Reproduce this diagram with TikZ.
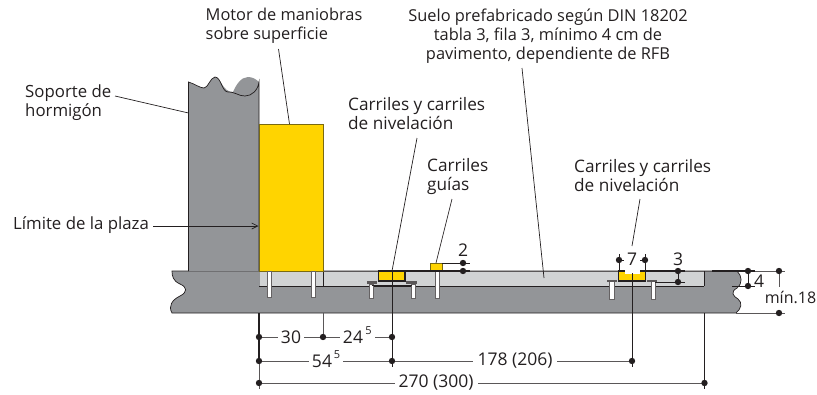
\documentclass[tikz,border=0pt]{standalone}
\usepackage{fontspec}
\usetikzlibrary{arrows.meta}
\setmainfont{Open Sans}
\definecolor{conc}{HTML}{939598}
\definecolor{lite}{HTML}{D1D3D4}
\definecolor{yel}{HTML}{FFD400}
\definecolor{ink}{HTML}{231F20}
\definecolor{olive}{HTML}{7A6A10}
\tikzset{
  lbl/.style={font=\fontsize{16.4}{19}\selectfont, text=ink, inner sep=0pt, align=left, anchor=west},
  lblw/.style={lbl, font=\fontsize{17.2}{19}\selectfont},
  lblm/.style={lbl, font=\fontsize{16.8}{19}\selectfont},
  dimt/.style={font=\fontsize{17.5}{18}\selectfont, text=ink, inner sep=0pt},
  sup5/.style={font=\fontsize{11}{12}\selectfont, text=ink, inner sep=0pt},
  ln/.style={draw=ink, line width=0.7pt},
  dimln/.style={draw=ink!75, line width=0.8pt},
  heavy/.style={draw=ink, line width=1.4pt},
  dot/.style={circle, fill=ink, inner sep=0pt, minimum size=6.4pt},
  bolt/.style={draw=ink!70, fill=white, line width=0.7pt},
  railb/.style={draw=ink, fill=yel, line width=1.5pt},
}
\begin{document}
\begin{tikzpicture}[x=1pt,y=-1pt]
\useasboundingbox (0,0) rectangle (817,394);
% slab
\path[fill=conc,draw=ink,line width=0.7pt] (172,271) -- (737,271)
  .. controls (742,276) and (743,283) .. (737,288)
  .. controls (730,292) and (733,296) .. (738,299)
  .. controls (743,303) and (741,309) .. (736,313)
  -- (172,313)
  .. controls (168,306) and (172,300) .. (180,296)
  .. controls (188,292) and (187,287) .. (180,284)
  .. controls (173,281) and (172,276) .. (172,271) -- cycle;
% screed
\path[fill=lite] (259,271) rectangle (704,286);
\draw[dimln] (259,271) -- (737,271);
\draw[ln] (259,286) -- (704,286);
\draw[draw=conc,line width=0.8pt] (259,271) -- (259,286);
\draw[ln] (323,271) -- (323,286);
\draw[ln] (704.5,271) -- (704.5,286);
% column
\path[fill=conc] (188.5,271) -- (188.5,82)
  .. controls (195,84) and (200,88) .. (204,88)
  .. controls (208,88) and (210,78) .. (215,77)
  .. controls (221,77) and (222,92) .. (233,92)
  .. controls (236,85) and (241,77) .. (248,77)
  .. controls (252,77) and (256,79) .. (259,82)
  -- (259,271) -- cycle;
\draw[ln] (188.5,271) -- (188.5,82)
  .. controls (195,84) and (200,88) .. (204,88)
  .. controls (208,88) and (210,78) .. (215,77)
  .. controls (221,77) and (222,92) .. (228,92)
  .. controls (236,92) and (238,96) .. (245,96)
  .. controls (252,96) and (258,90) .. (259,82)
  -- (259,271);
% motor
\path[fill=yel,draw=olive,line width=0.9pt] (259,124) rectangle (323,271);
% bolts under motor
\path[bolt] (267,271) rectangle (271,297);
\path[bolt] (311,271) rectangle (315,297);
% left rail
\path[bolt] (369,284) rectangle (373,298);
\path[bolt] (411,284) rectangle (415,298);
\draw[ln,line width=1.3pt] (372,285.5) -- (412,285.5);
\path[fill=ink!75] (367,281) rectangle (377,284);
\path[fill=ink!75] (406,281) rectangle (417,284);
\draw[railb] (378.5,271) -- (378.5,281) -- (405,281) -- (405,271) -- cycle;
% guide rail
\path[bolt] (435,271) rectangle (439,298);
\path[fill=yel,draw=olive,line width=0.8pt] (430.5,263) rectangle (442,271);
\draw[ln] (442,263) -- (470,263);
\draw[heavy] (405,271) -- (470,271);
% right rail
\path[bolt] (609,281) rectangle (614,299);
\path[bolt] (651,281) rectangle (655,299);
\path[fill=ink!75] (607,280) rectangle (617,282);
\path[fill=ink!75] (647,280) rectangle (657,282);
\draw[railb] (618.5,271) -- (618.5,281) -- (645.5,281) -- (645.5,271) -- cycle;
\draw[ln] (655,282) -- (685,282);
\draw[heavy] (645,271) -- (685,271);
\draw[heavy] (712,271) -- (755,271);
% right ext lines
\draw[dimln] (755,271) -- (785,271);
\draw[dimln] (736,313) -- (785,313);
\draw[ln] (732,286) -- (755,286);
% white gap above right rail
\path[fill=white] (625,262) rectangle (640,273.5);
% nodes
\node[lblm] (soporte) at (25,102.5) {Soporte de\\hormigón};
\node[lblm] (limite) at (13,225.5) {Límite de la plaza};
\node[lbl] (motor) at (205.5,25.5) {Motor de maniobras\\sobre superficie};
\node[lbl,align=center,anchor=center] (suelo) at (548,36) {Suelo prefabricado según DIN 18202\\tabla 3, fila 3, mínimo 4 cm de\\pavimento, dependiente de RFB};
\node[lblw] (carrA) at (348,113.5) {Carriles y carriles\\de nivelación};
\node[lblw] (guias) at (427,176.5) {Carriles\\guías};
\node[lblw] (carrB) at (574,176) {Carriles y carriles\\de nivelación};
% leader coordinates
\coordinate (sopS) at (115,96); \coordinate (sopE) at (188.5,113);
\coordinate (limS) at (153,226); \coordinate (limE) at (258.5,226);
\coordinate (motS) at (278.5,49); \coordinate (motE) at (289.5,124);
\coordinate (sueS) at (522,68); \coordinate (sueE) at (544,278);
\coordinate (cAS) at (417,138); \coordinate (cAE) at (392,271);
\coordinate (gS) at (452,199); \coordinate (gE) at (436,263);
\coordinate (cBS) at (640,199); \coordinate (cBE) at (632,246);
\draw[ln] (sopS) -- (sopE);
\draw[ln,-{Straight Barb[length=6pt,width=6pt]}] (limS) -- (limE);
\draw[ln] (motS) -- (motE);
\draw[ln] (sueS) -- (sueE);
\draw[ln] (cAS) -- (cAE);
\draw[ln] (gS) -- (gE);
\draw[ln] (cBS) -- (cBE);
% vertical dimension rules
\coordinate (a0) at (259,313); \coordinate (a1) at (259,337); \coordinate (a2) at (259,361); \coordinate (a3) at (259,383); \coordinate (a4) at (259,389);
\coordinate (b0) at (323,313); \coordinate (b1) at (323,337);
\coordinate (c0) at (392,271); \coordinate (c1) at (392,337); \coordinate (c2) at (392,361); \coordinate (c3) at (392,367);
\coordinate (dt) at (632,273); \coordinate (d1) at (632,361); \coordinate (d3) at (632,367);
\coordinate (e0) at (704.5,313); \coordinate (e1) at (704.5,383); \coordinate (e3) at (704.5,389);
\draw[heavy] (a0) -- (a2);
\draw[dimln] (a2) -- (a4);
\draw[dimln] (b0) -- (b1);
\draw[ln] (c0) -- (c3);
\draw[ln] (dt) -- (d3);
\draw[ln] (e0) -- (e3);
% horizontal dimension rules
\draw[dimln] (a1) -- (278,337) (304,337) -- (340,337) (375,337) -- (c1);
\draw[dimln] (a2) -- (309,361) (343,361) -- (473,361) (557,361) -- (d1);
\draw[dimln] (a3) -- (395,383) (478,383) -- (e1);
\foreach \p in {a1,a2,a3,b1,c1,c2,d1,e1} \node[dot] at (\p) {};
\node[dimt] (t30) at (291,337) {30};
\node[dimt] (t24) at (353,337) {24};
\node[sup5] (s24) at (368.5,330.5) {5};
\node[dimt] (t54) at (322,361) {54};
\node[sup5] (s54) at (337,355) {5};
\node[dimt] (t178) at (515,361) {178 (206)};
\node[dimt] (t270) at (436,383) {270 (300)};
% small dims
\node[dot] (d2a) at (463,263) {}; \node[dot] (d2b) at (463,271) {};
\node[dimt] (t2) at (463,250) {2};
\node[dot] (d7a) at (619,260) {}; \node[dot] (d7b) at (645,260) {};
\draw[ln] (619,254) -- (619,271) (645,254) -- (645,271);
\draw[ln] (d7a) -- (624,260) (d7b) -- (640,260);
\node[dimt] (t7) at (632,259) {7};
\node[dot] (d3a) at (678,271) {}; \node[dot] (d3b) at (678,282) {};
\draw[ln] (d3a) -- (d3b);
\node[dimt] (t3) at (678,259) {3};
\node[dot] (d4a) at (748,271) {}; \node[dot] (d4b) at (748,286) {};
\draw[ln] (d4a) -- (d4b);
\node[dimt] (t4) at (759,281) {4};
\node[dot] (m18a) at (779,271) {}; \node[dot] (m18b) at (779,313) {};
\draw[dimln] (m18a) -- (779,287);
\node[dimt,font=\fontsize{16}{18}\selectfont] (t18) at (790.5,297) {mín.18};
\end{tikzpicture}
\end{document}
